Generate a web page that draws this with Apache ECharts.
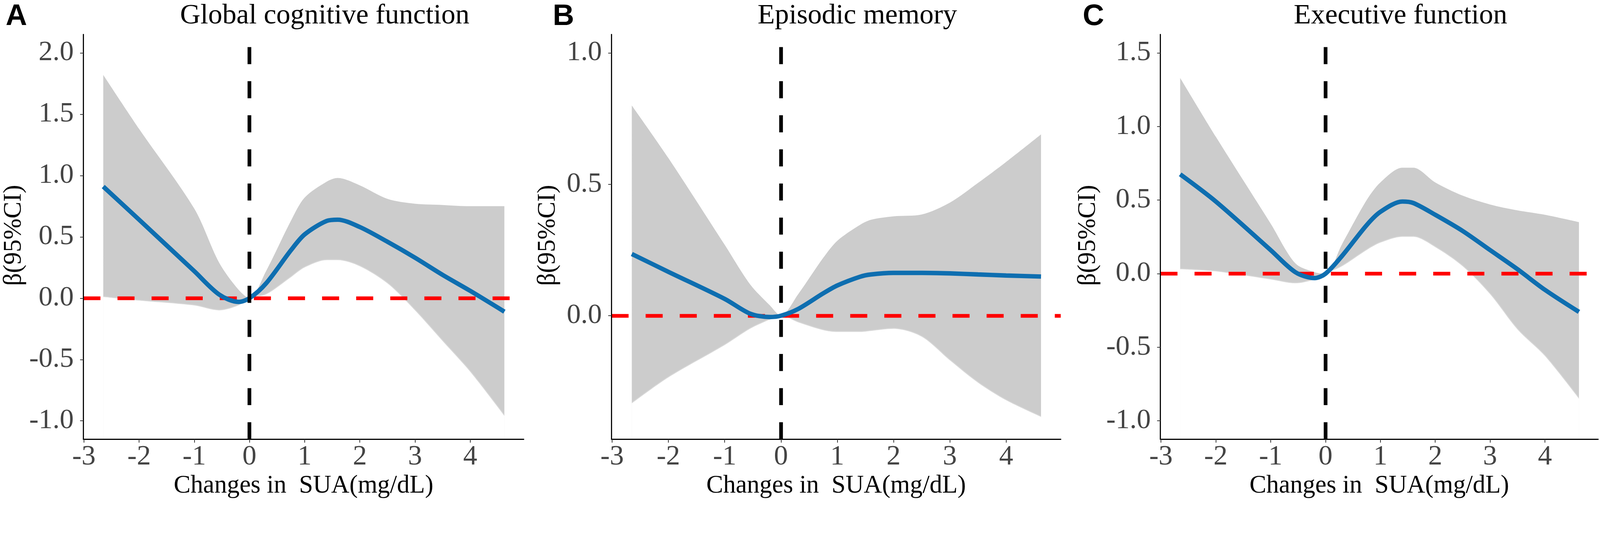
<!DOCTYPE html>
<html>
<head>
<meta charset="utf-8">
<script src="https://cdn.jsdelivr.net/npm/echarts@6/dist/echarts.min.js"></script>
<style>
  html, body { margin: 0; padding: 0; background: #fff; overflow: hidden; }
  #chart { width: 100vw; height: 100vh; }
</style>
</head>
<body>
<div id="chart"></div>
<script>
// shared x grid (change in SUA, mg/dL)
var xs = [-2.65, -2, -1, -0.55, -0.2, 0, 0.3, 0.75, 1, 1.4, 1.6, 2, 2.5, 3, 3.5, 4, 4.62];

// A - global cognitive function
var fitA   = [0.91, 0.64, 0.22, 0.03, -0.03, 0, 0.12, 0.39, 0.52, 0.63, 0.64, 0.58, 0.46, 0.33, 0.19, 0.06, -0.11];
var upperA = [1.82, 1.38, 0.73, 0.29, 0.07, 0, 0.22, 0.63, 0.82, 0.95, 0.98, 0.92, 0.81, 0.77, 0.76, 0.75, 0.75];
var lowerA = [0.01, -0.02, -0.06, -0.10, -0.06, 0, 0.03, 0.17, 0.25, 0.31, 0.31, 0.26, 0.12, -0.10, -0.35, -0.60, -0.96];

// B - episodic memory
var fitB   = [0.235, 0.167, 0.064, 0.008, -0.005, 0, 0.025, 0.085, 0.115, 0.148, 0.157, 0.163, 0.163, 0.161, 0.157, 0.153, 0.149];
var upperB = [0.80, 0.60, 0.27, 0.12, 0.04, 0, 0.08, 0.22, 0.285, 0.345, 0.365, 0.378, 0.385, 0.43, 0.505, 0.585, 0.69];
var lowerB = [-0.334, -0.235, -0.112, -0.05, -0.015, 0, -0.025, -0.055, -0.062, -0.062, -0.058, -0.05, -0.08, -0.17, -0.255, -0.322, -0.385];

// C - executive function
var fitC   = [0.675, 0.49, 0.16, 0.01, -0.03, 0, 0.12, 0.33, 0.42, 0.49, 0.48, 0.40, 0.29, 0.16, 0.03, -0.11, -0.26];
var upperC = [1.33, 0.93, 0.34, 0.07, 0.01, 0, 0.2, 0.5, 0.62, 0.72, 0.72, 0.62, 0.53, 0.47, 0.43, 0.40, 0.35];
var lowerC = [0.03, 0.015, -0.04, -0.066, -0.04, 0, 0.05, 0.16, 0.21, 0.25, 0.25, 0.18, 0.05, -0.14, -0.38, -0.56, -0.85];

var titles = ['Global cognitive function', 'Episodic memory', 'Executive function'];
var letters = ['A', 'B', 'C'];
var xName = 'Changes in  SUA(mg/dL)';
var yName = 'β(95%CI)';
var xTicks = [-3, -2, -1, 0, 1, 2, 3, 4];
var yTicksA = [-1, -0.5, 0, 0.5, 1, 1.5, 2];
var yTicksB = [0, 0.5, 1];
var yTicksC = [-1, -0.5, 0, 0.5, 1, 1.5];

var el = document.getElementById('chart');
var k = el.clientWidth / 4317;   // layout below is in reference pixels
function s(v) { return v * k; }

var serif = 'Liberation Serif';
var panels = [
  { fit: fitA, up: upperA, lo: lowerA, ticks: yTicksA, ymin: -1.15, ymax: 2.15, left: 225, width: 1188, nameX: 38, letterX: 10 },
  { fit: fitB, up: upperB, lo: lowerB, ticks: yTicksB, ymin: -0.47, ymax: 1.07, left: 1650, width: 1212, nameX: 1479, letterX: 1486 },
  { fit: fitC, up: upperC, lo: lowerC, ticks: yTicksC, ymin: -1.125, ymax: 1.625, left: 3131, width: 1181, nameX: 2936, letterX: 2916 }
];

function pairs(a) {
  return xs.map(function (x, i) { return [x, a[i]]; });
}

var grid = [], xAxis = [], yAxis = [], series = [], title = [], graphic = [];

panels.forEach(function (p, i) {
  grid.push({ left: s(p.left), top: s(93), width: s(p.width), height: s(1092) });
  title.push({
    text: titles[i], left: s(p.left + p.width / 2 + 52), top: s(0), textAlign: 'center',
    textStyle: { fontFamily: serif, fontWeight: 'normal', fontSize: s(76), color: '#000' }
  });
  title.push({
    text: letters[i], left: s(p.letterX), top: s(0),
    textStyle: { fontFamily: 'Liberation Sans', fontWeight: 'bold', fontSize: s(80), color: '#000' }
  });
  // rotated y-axis title
  graphic.push({
    type: 'text', x: s(p.nameX), y: s(635), rotation: Math.PI / 2, silent: true,
    style: { text: yName, font: s(68) + 'px "' + serif + '"', fill: '#000', align: 'center', verticalAlign: 'middle' }
  });
  xAxis.push({
    type: 'value', gridIndex: i, min: -3.01, max: 4.97, z: 10,
    name: xName, nameLocation: 'middle', nameGap: s(92),
    nameTextStyle: { fontFamily: serif, fontSize: s(68), color: '#000' },
    axisLine: { onZero: false, lineStyle: { color: '#000', width: s(3) } },
    axisTick: { customValues: xTicks, length: s(9), lineStyle: { color: '#333', width: s(2) } },
    axisLabel: { customValues: xTicks, margin: s(10), fontFamily: serif, fontSize: s(76), color: '#444' },
    splitLine: { show: false }
  });
  yAxis.push({
    type: 'value', gridIndex: i, min: p.ymin, max: p.ymax, z: 10,
    axisLine: { onZero: false, lineStyle: { color: '#000', width: s(3) } },
    axisTick: { customValues: p.ticks, length: s(9), lineStyle: { color: '#333', width: s(2) } },
    axisLabel: {
      customValues: p.ticks, margin: s(26), fontFamily: serif, fontSize: s(76), color: '#444',
      formatter: function (v) { return v.toFixed(1); }
    },
    splitLine: { show: false }
  });

  // 95% CI ribbon: grey fill under the upper bound, masked in white under the lower bound
  series.push({
    type: 'line', xAxisIndex: i, yAxisIndex: i,
    data: pairs(p.up), smooth: 0.3, showSymbol: false, silent: true, z: 1,
    lineStyle: { width: 0, opacity: 0 },
    areaStyle: { color: '#cccccc', opacity: 1, origin: 'start' }
  });
  series.push({
    type: 'line', xAxisIndex: i, yAxisIndex: i,
    data: pairs(p.lo), smooth: 0.3, showSymbol: false, silent: true, z: 1,
    lineStyle: { width: 0, opacity: 0 },
    // soft white edge hides the anti-aliased seam under the ribbon ends
    areaStyle: { color: '#ffffff', opacity: 1, origin: 'start', shadowColor: '#ffffff', shadowBlur: s(4) },
    markLine: {
      silent: true, symbol: 'none', z: 2, label: { show: false },
      lineStyle: { color: '#ff0000', width: s(10), type: [s(46), s(46)] },
      data: [{ yAxis: 0 }]
    }
  });
  series.push({
    type: 'line', xAxisIndex: i, yAxisIndex: i,
    data: pairs(p.fit), smooth: 0.3, showSymbol: false, silent: true, z: 3,
    lineStyle: { color: '#0e6eb0', width: s(12) },
    markLine: {
      silent: true, symbol: 'none', z: 4, label: { show: false },
      lineStyle: { color: '#000', width: s(10), type: [s(46), s(46)] },
      data: [{ xAxis: 0 }]
    }
  });
});

var chart = echarts.init(el);
chart.setOption({
  animation: false,
  backgroundColor: '#fff',
  title: title,
  graphic: graphic,
  grid: grid,
  xAxis: xAxis,
  yAxis: yAxis,
  series: series
});
</script>
</body>
</html>
